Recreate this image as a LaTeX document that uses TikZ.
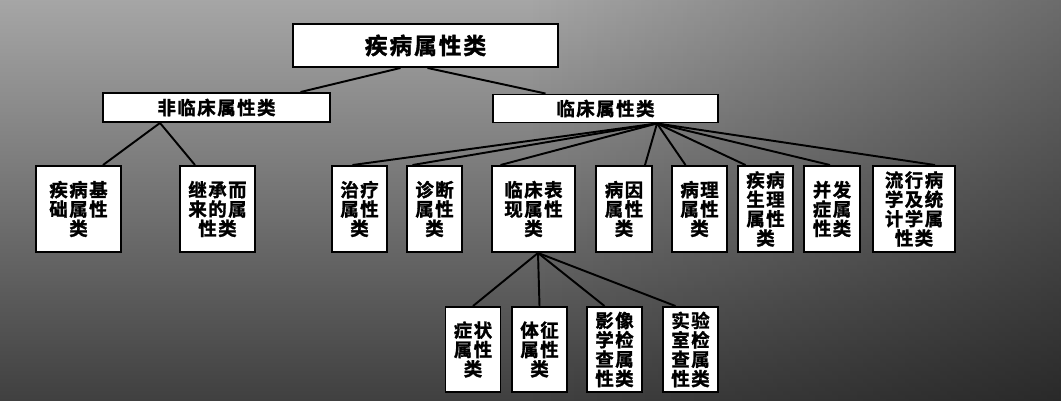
\documentclass[tikz,border=0pt]{standalone}
\usepackage{fontspec}
\setmainfont{Noto Sans CJK SC Bold}
\newfontfamily\cjkwide{Noto Sans CJK SC Bold}[LetterSpace=8,FakeBold=1.5]
\usetikzlibrary{calc,fadings}

\begin{document}
\begin{tikzpicture}
[x=0.02cm, y=-0.02cm,
 boxsize/.style 2 args={minimum width=#1*0.02cm, minimum height=#2*0.02cm},
 Box/.style={rectangle,
    draw=black, fill=white, line width=1.1pt, inner sep=0pt,
    align=center, font=\cjkwide\fontsize{10.5}{11}\selectfont},
 TopBox/.style={Box, font=\cjkwide\fontsize{13}{14}\selectfont},
 link/.style={draw=black, line width=1.1pt}]

% background
\fill[top color=black!35, bottom color=black!75] (0,0) rectangle (1061,401);
\fill[black, path fading=west, opacity=0.35] (530,0) rectangle (1061,401);

% levels 1 and 2
\node[TopBox, boxsize={265}{43}] (top) at (425.5,45.5) {疾病属性类};
\node[Box, boxsize={227}{29}] (nonclin) at (216.5,107.5) {非临床属性类};
\node[Box, boxsize={225}{28}] (clin) at (605.5,108.5) {临床属性类};

% level 3
\foreach \n/\x/\w/\t in {b1/78.5/85/{疾病基\\础属性\\类},
                         b2/217.5/75/{继承而\\来的属\\性类},
                         b3/359.5/55/{治疗\\属性\\类},
                         b4/434.5/55/{诊断\\属性\\类},
                         b5/533.5/83/{临床表\\现属性\\类},
                         b6/624/56/{病因\\属性\\类},
                         b7/699.5/55/{病理\\属性\\类},
                         b8/765.5/55/{疾病\\生理\\属性\\类},
                         b9/832/56/{并发\\症属\\性类},
                         b10/914/82/{流行病\\学及统\\计学属\\性类}}
    \node[Box, boxsize={\w}{86}] (\n) at (\x,209) {\t};

% level 4
\foreach \n/\x/\t in {c1/473/{症状\\属性\\类},
                      c2/539.5/{体征\\属性\\类},
                      c3/614.5/{影像\\学检\\查属\\性类},
                      c4/690.5/{实验\\室检\\查属\\性类}}
    \node[Box, boxsize={55}{85}] (\n) at (\x,349.5) {\t};

% connectors
\draw[link] ($(top.south)+(-25,0)$) -- ($(nonclin.north)+(84,0)$);
\draw[link] ($(top.south)+(2,0)$) -- ($(clin.north)+(-60,0)$);
\foreach \n/\d in {b1/24.5, b2/-22.5}
    \draw[link] ($(nonclin.south)+(-56.5,0)$) -- ($(\n.north)+(\d,0)$);
\foreach \n/\d in {b3/-7, b4/-22, b5/-33, b6/21, b7/-14, b8/-20, b9/-2, b10/21}
    \draw[link] ($(clin.south)+(51.5,0)$) -- ($(\n.north)+(\d,0)$);
\foreach \n/\d in {c1/0, c2/0, c3/-10, c4/-15}
    \draw[link] ($(b5.south)+(4.5,0)$) -- ($(\n.north)+(\d,0)$);
\end{tikzpicture}
\end{document}
